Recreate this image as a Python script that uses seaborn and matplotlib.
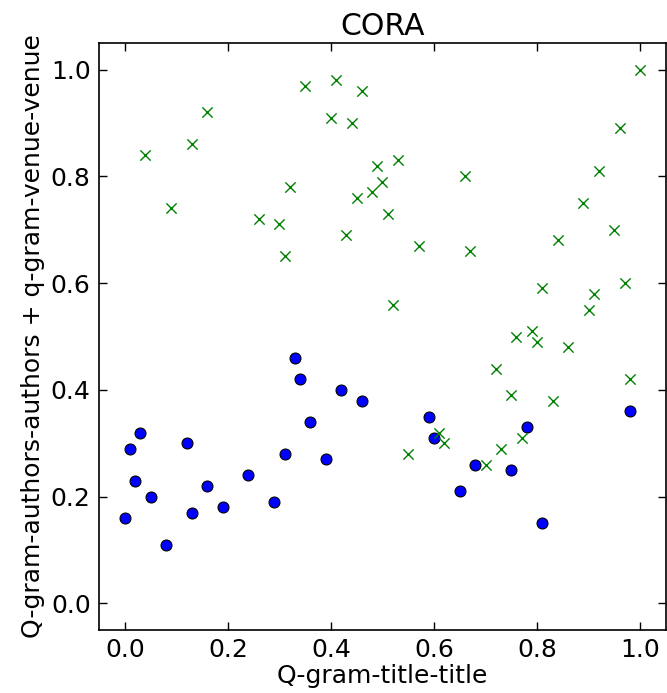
import seaborn as sns
import matplotlib.pyplot as plt
import pandas as pd

# Blue circles (lower cluster)
blue_x = [0.00, 0.01, 0.03, 0.02, 0.05, 0.08, 0.12, 0.13, 0.16, 0.19,
          0.24, 0.29, 0.31, 0.33, 0.34, 0.36, 0.39, 0.42, 0.46,
          0.59, 0.60, 0.65, 0.68, 0.75, 0.78, 0.81, 0.98]
blue_y = [0.16, 0.29, 0.32, 0.23, 0.20, 0.11, 0.30, 0.17, 0.22, 0.18,
          0.24, 0.19, 0.28, 0.46, 0.42, 0.34, 0.27, 0.40, 0.38,
          0.35, 0.31, 0.21, 0.26, 0.25, 0.33, 0.15, 0.36]

# Green crosses
green_x = [0.04, 0.09, 0.13, 0.16, 0.26, 0.30, 0.31, 0.32, 0.35, 0.40,
           0.41, 0.43, 0.44, 0.46, 0.45, 0.48, 0.49, 0.50, 0.51, 0.53,
           0.52, 0.57, 0.66, 0.67, 0.81, 0.84, 0.89, 0.92, 0.95, 0.96,
           0.97, 0.91, 0.90, 1.00, 0.55, 0.61, 0.62, 0.70, 0.73, 0.72,
           0.75, 0.77, 0.76, 0.79, 0.80, 0.83, 0.86, 0.98]
green_y = [0.84, 0.74, 0.86, 0.92, 0.72, 0.71, 0.65, 0.78, 0.97, 0.91,
           0.98, 0.69, 0.90, 0.96, 0.76, 0.77, 0.82, 0.79, 0.73, 0.83,
           0.56, 0.67, 0.80, 0.66, 0.59, 0.68, 0.75, 0.81, 0.70, 0.89,
           0.60, 0.58, 0.55, 1.00, 0.28, 0.32, 0.30, 0.26, 0.29, 0.44,
           0.39, 0.31, 0.50, 0.51, 0.49, 0.38, 0.48, 0.42]

blue_df = pd.DataFrame({"x": blue_x, "y": blue_y})
green_df = pd.DataFrame({"x": green_x, "y": green_y})

sns.set_style("ticks", {
    "xtick.direction": "in",
    "ytick.direction": "in",
    "xtick.top": True,
    "ytick.right": True,
    "axes.edgecolor": "black",
    "axes.labelcolor": "black",
    "text.color": "black",
    "xtick.color": "black",
    "ytick.color": "black",
})
plt.rcParams["font.family"] = ["DejaVu Sans"]
plt.rcParams["font.size"] = 18

fig = plt.figure(figsize=(6.67, 6.93), dpi=100)
ax = fig.add_axes([0.1484, 0.0909, 0.850, 0.847])

sns.scatterplot(data=blue_df, x="x", y="y", ax=ax, marker="o",
                color="#0000ff", edgecolor="black", linewidth=0.8, s=62)
sns.scatterplot(data=green_df, x="x", y="y", ax=ax, marker="x",
                color="#008000", linewidth=1.0, s=55)

ax.set_xlim(-0.05, 1.05)
ax.set_ylim(-0.05, 1.05)
ax.set_xticks([0.0, 0.2, 0.4, 0.6, 0.8, 1.0])
ax.set_yticks([0.0, 0.2, 0.4, 0.6, 0.8, 1.0])
ax.tick_params(axis="both", which="major", labelsize=18, length=6, width=1,
               direction="in", top=True, right=True, pad=6,
               colors="black", labelcolor="black")
for s in ax.spines.values():
    s.set_linewidth(1.2)
    s.set_color("black")

ax.set_title("CORA", fontsize=21.6, pad=6, color="black")
ax.set_xlabel("Q-gram-title-title", fontsize=18, labelpad=1, color="black")
ax.set_ylabel("Q-gram-authors-authors + q-gram-venue-venue", fontsize=18,
              labelpad=4, color="black")

plt.savefig("out.png", dpi=100)
